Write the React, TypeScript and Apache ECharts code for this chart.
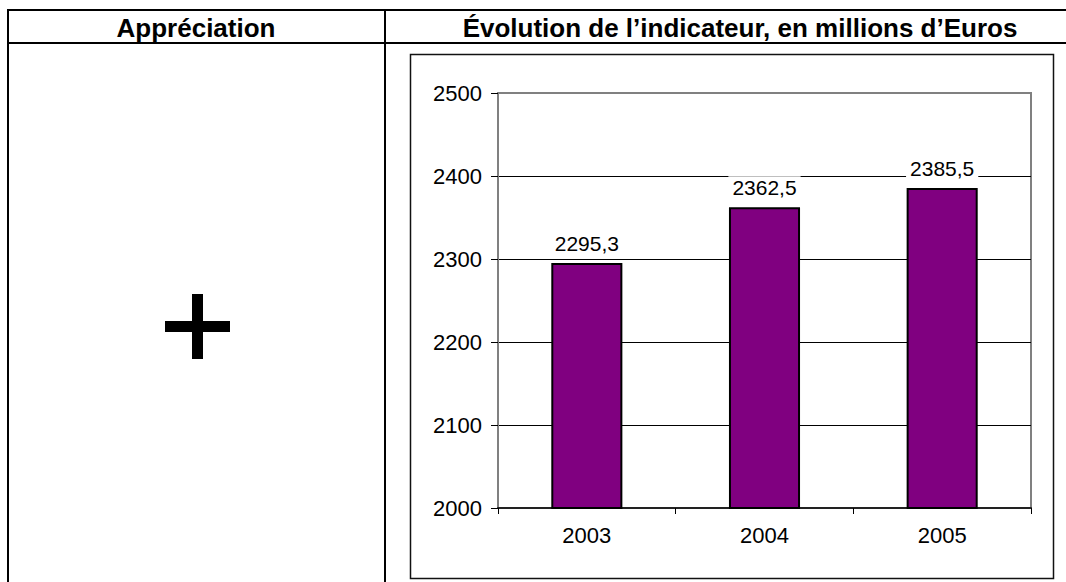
import React, { useEffect, useRef } from "react";
import * as echarts from "echarts";

const categories = ["2003", "2004", "2005"];
const values = [2295.3, 2362.5, 2385.5];
const yMin = 2000;
const yMax = 2500;
const yStep = 100;
const headerLeft = "Appréciation";
const headerRight = "Évolution de l’indicateur, en millions d’Euros";
const appreciationMark = "+";

const FONT = '"Liberation Sans", Arial, Helvetica, sans-serif';

export default function App() {
  const ref = useRef<HTMLDivElement>(null);
  useEffect(() => {
    if (!ref.current) return;
    const chart = echarts.init(ref.current, null, { renderer: "svg" });
    const black = "#000";
    const tableLines = [
      { x1: 8, y1: 10, x2: 1066, y2: 10 },
      { x1: 8, y1: 43, x2: 1066, y2: 43 },
      { x1: 8, y1: 9, x2: 8, y2: 582 },
      { x1: 385, y1: 9, x2: 385, y2: 582 },
    ];
    chart.setOption({
      animation: false,
      backgroundColor: "#fff",
      textStyle: { fontFamily: FONT },
      graphic: [
        ...tableLines.map((s) => ({
          type: "line",
          shape: s,
          style: { stroke: black, lineWidth: 2 },
          silent: true,
        })),
        {
          type: "text",
          x: 196,
          y: 28,
          style: {
            text: headerLeft,
            fontFamily: FONT,
            fontWeight: "bold",
            fontSize: 26,
            fill: black,
            textAlign: "center",
            textVerticalAlign: "middle",
          },
        },
        {
          type: "text",
          x: 740,
          y: 28,
          style: {
            text: headerRight,
            fontFamily: FONT,
            fontWeight: "bold",
            fontSize: 26,
            fill: black,
            textAlign: "center",
            textVerticalAlign: "middle",
          },
        },
        {
          type: "group",
          name: appreciationMark,
          children: [
            { type: "rect", shape: { x: 165, y: 321, width: 65, height: 11 }, style: { fill: black } },
            { type: "rect", shape: { x: 192, y: 294, width: 11, height: 65 }, style: { fill: black } },
          ],
        },
        {
          type: "rect",
          shape: { x: 410.5, y: 54.5, width: 643, height: 524 },
          style: { fill: "none", stroke: "#111", lineWidth: 1.5 },
          silent: true,
        },
      ],
      grid: {
        left: 498,
        top: 93,
        right: 35,
        bottom: 74,
        show: true,
        borderColor: "#808080",
        borderWidth: 2,
        backgroundColor: "transparent",
      },
      xAxis: {
        type: "category",
        data: categories,
        axisLine: { show: true, lineStyle: { color: "#222", width: 2 } },
        axisTick: { show: true, length: 6, lineStyle: { color: "#000", width: 1 } },
        axisLabel: { color: "#000", fontSize: 22, fontFamily: FONT, margin: 16 },
      },
      yAxis: {
        type: "value",
        min: yMin,
        max: yMax,
        interval: yStep,
        axisLine: { show: true, lineStyle: { color: "#808080", width: 2 } },
        axisTick: { show: true, length: 7, lineStyle: { color: "#000", width: 1 } },
        axisLabel: {
          color: "#000",
          fontSize: 22,
          fontFamily: FONT,
          margin: 16,
          formatter: (v: number) => String(v),
        },
        splitLine: {
          show: true,
          showMinLine: false,
          showMaxLine: false,
          lineStyle: { color: "#000", width: 1 },
        },
      },
      series: [
        {
          type: "bar",
          data: values,
          barWidth: "40%",
          itemStyle: { color: "#800080", borderColor: "#000", borderWidth: 2 },
          label: {
            show: true,
            position: "top",
            distance: 8,
            color: "#000",
            fontSize: 21,
            fontFamily: FONT,
            backgroundColor: "#fff",
            padding: [1, 4],
            formatter: (p: any) => String(p.value).replace(".", ","),
          },
        },
      ],
    });
    return () => chart.dispose();
  }, []);
  return (
    <div
      ref={ref}
      style={{ position: "fixed", left: 0, top: 0, width: 1066, height: 582 }}
    />
  );
}
